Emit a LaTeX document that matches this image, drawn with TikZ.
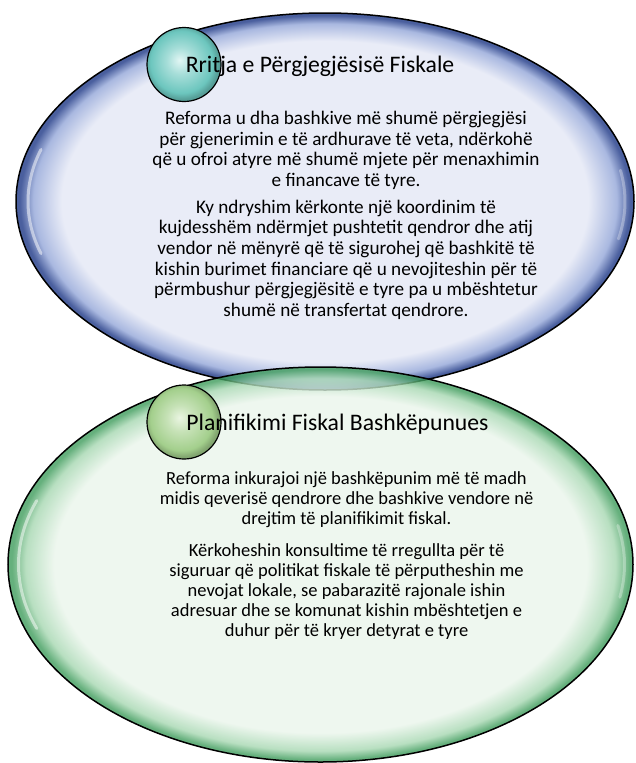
\documentclass[tikz,border=0pt]{standalone}
\usepackage{fontspec}
\setmainfont{Carlito}
\usepackage{xcolor}
\usetikzlibrary{shapes.geometric}
\definecolor{blueIn}{HTML}{E9ECF7}
\definecolor{blueMid}{HTML}{A9B8E0}
\definecolor{blueDeep}{HTML}{4A5F9E}
\definecolor{greenIn}{HTML}{EAF5EB}
\definecolor{greenMid}{HTML}{A6D7B1}
\definecolor{greenDeep}{HTML}{3F9C5C}
\definecolor{tealIn}{HTML}{E2F6F4}
\definecolor{tealOut}{HTML}{6CC6BE}
\definecolor{leafIn}{HTML}{EAF5E2}
\definecolor{leafOut}{HTML}{A3CF8C}
\pgfdeclareradialshading{bluebubble}{\pgfpoint{0bp}{0bp}}{color(0bp)=(blueIn); color(21.3bp)=(blueIn); color(23.6bp)=(blueMid); color(24.7bp)=(blueDeep); color(25bp)=(blueDeep); color(50bp)=(blueDeep)}
\pgfdeclareradialshading{greenbubble}{\pgfpoint{0bp}{0bp}}{color(0bp)=(greenIn); color(21.3bp)=(greenIn); color(23.6bp)=(greenMid); color(24.7bp)=(greenDeep); color(25bp)=(greenDeep); color(50bp)=(greenDeep)}
\pgfdeclareradialshading{tealball}{\pgfpoint{-3bp}{3bp}}{color(0bp)=(tealIn); color(9bp)=(tealIn!50!tealOut); color(21bp)=(tealOut); color(25bp)=(tealOut!80!black); color(50bp)=(tealOut!80!black)}
\pgfdeclareradialshading{leafball}{\pgfpoint{-3bp}{3bp}}{color(0bp)=(leafIn); color(9bp)=(leafIn!50!leafOut); color(21bp)=(leafOut); color(25bp)=(leafOut!80!black); color(50bp)=(leafOut!80!black)}
\tikzset{bubble/.style={ellipse,draw=black,line width=1.5pt,inner sep=0pt},
  knob/.style={circle,draw=black,line width=1.2pt,minimum size=74pt,inner sep=0pt},
  gloss/.style={white,line width=3pt,line cap=round,opacity=0.5},
  headtext/.style={anchor=base,inner sep=0pt,font=\fontsize{23.7}{26}\selectfont},
  bodytext/.style={anchor=base,inner sep=0pt,align=center}}

\begin{document}
\begin{tikzpicture}[x=1pt,y=-1pt]
    \useasboundingbox (0,0) rectangle (635,763);
    \coordinate (A) at (325,201.5);
    \coordinate (B) at (320.5,564.5);
    \node[bubble,shading=bluebubble,minimum width=618pt,minimum height=377pt] (fiscal) at (A) {};
    \draw[gloss] (A) ++(163:297 and 178) arc[start angle=163,end angle=197,x radius=297,y radius=178];
    \draw[gloss,opacity=0.3] (A) ++(-10:300 and 180) arc[start angle=-10,end angle=12,x radius=300,y radius=180];
    \node[bubble,shading=greenbubble,fill opacity=0.8,minimum width=625pt,minimum height=395pt] (plan) at (B) {};
    \draw[gloss] (B) ++(160:302 and 187) arc[start angle=160,end angle=200,x radius=302,y radius=187];
    \draw[gloss,opacity=0.3] (B) ++(-12:304 and 188) arc[start angle=-12,end angle=10,x radius=304,y radius=188];
    \node[knob,shading=tealball] (dotA) at (184,64.5) {};
    \node[knob,shading=leafball] (dotB) at (184,422) {};
    \node[headtext] (headA) at (320,72) {Rritja e Përgjegjësisë Fiskale};
    \node[headtext] (headB) at (337.5,430) {Planifikimi Fiskal Bashkëpunues};
    \node[bodytext,font=\fontsize{19.2}{20.7}\selectfont] (bodyA1) at (346,186.5) {Reforma u dha bashkive më shumë përgjegjësi\\për gjenerimin e të ardhurave të veta, ndërkohë\\që u ofroi atyre më shumë mjete për menaxhimin\\e financave të tyre.};
    \node[bodytext,font=\fontsize{19.2}{20.7}\selectfont] (bodyA2) at (346,316.5) {Ky ndryshim kërkonte një koordinim të\\kujdesshëm ndërmjet pushtetit qendror dhe atij\\vendor në mënyrë që të sigurohej që bashkitë të\\kishin burimet financiare që u nevojiteshin për të\\përmbushur përgjegjësitë e tyre pa u mbështetur\\shumë në transfertat qendrore.};
    \node[bodytext,font=\fontsize{18.5}{19.9}\selectfont] (bodyB1) at (346.5,524.5) {Reforma inkurajoi një bashkëpunim më të madh\\midis qeverisë qendrore dhe bashkive vendore në\\drejtim të planifikimit fiskal.};
    \node[bodytext,font=\fontsize{18.5}{19.9}\selectfont] (bodyB2) at (346.5,636.5) {Kërkoheshin konsultime të rregullta për të\\siguruar që politikat fiskale të përputheshin me\\nevojat lokale, se pabarazitë rajonale ishin\\adresuar dhe se komunat kishin mbështetjen e\\duhur për të kryer detyrat e tyre};
\end{tikzpicture}
\end{document}
